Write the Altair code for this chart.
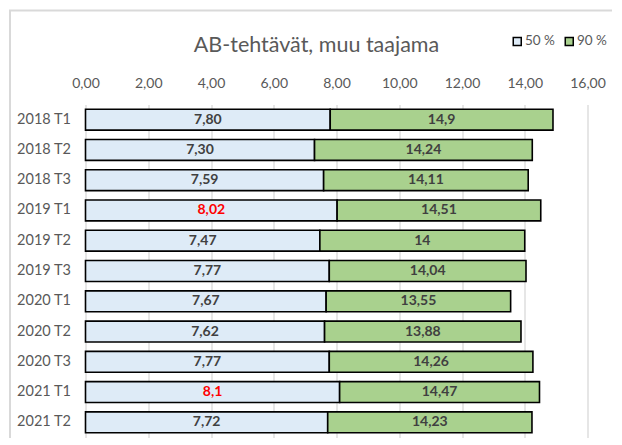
import altair as alt
import pandas as pd

periods = ["2018 T1", "2018 T2", "2018 T3", "2019 T1", "2019 T2", "2019 T3",
           "2020 T1", "2020 T2", "2020 T3", "2021 T1", "2021 T2"]
p50 = [7.80, 7.30, 7.59, 8.02, 7.47, 7.77, 7.67, 7.62, 7.77, 8.10, 7.72]
p90 = [14.9, 14.24, 14.11, 14.51, 14.0, 14.04, 13.55, 13.88, 14.26, 14.47, 14.23]
lab50 = ["7,80", "7,30", "7,59", "8,02", "7,47", "7,77", "7,67", "7,62", "7,77", "8,1", "7,72"]
lab90 = ["14,9", "14,24", "14,11", "14,51", "14", "14,04", "13,55", "13,88", "14,26", "14,47", "14,23"]
series = ["50 %", "90 %"]
TITLE = "AB-tehtävät, muu taajama"

FONT = "Lato"
rows = []
for i, p in enumerate(periods):
    rows.append({"period": p, "series": series[0], "start": 0.0, "end": p50[i],
                 "label": lab50[i], "hi": p50[i] > 8})
    rows.append({"period": p, "series": series[1], "start": p50[i], "end": p90[i],
                 "label": lab90[i], "hi": False})
df = pd.DataFrame(rows)

W, H = 502, 333

yenc = alt.Y("period:N", sort=periods, title=None,
             scale=alt.Scale(paddingInner=0.31, paddingOuter=0.155))

bars = alt.Chart(df).mark_bar(stroke="black", strokeWidth=1.6, opacity=1).encode(
    x=alt.X("start:Q", title=None,
            scale=alt.Scale(domain=[0, 16], nice=False),
            axis=alt.Axis(orient="top", values=[0, 2, 4, 6, 8, 10, 12, 14, 16],
                          labelFlush=False,
                          labelExpr="replace(format(datum.value, '.2f'), '.', ',')")),
    x2="end:Q",
    y=yenc,
    fill=alt.Fill("series:N", scale=alt.Scale(domain=series, range=["#DEEBF7", "#A9D18E"]),
                  legend=alt.Legend(title=None, orient="none", direction="horizontal",
                                    legendX=425, legendY=-70, symbolType="square",
                                    symbolSize=64, symbolStrokeColor="black",
                                    symbolStrokeWidth=1.5, labelFontSize=13.5,
                                    labelColor="#595959", labelFont=FONT,
                                    columnPadding=6, labelOffset=1, padding=0)),
)

texts = alt.Chart(df).mark_text(font=FONT, fontSize=14, fontWeight="bold").encode(
    x=alt.X("mid:Q"),
    y=yenc,
    text="label:N",
    color=alt.condition("datum.hi", alt.value("#FF0000"), alt.value("#404040")),
).transform_calculate(mid="(datum.start + datum.end) / 2")

title = alt.Chart(pd.DataFrame({"t": [TITLE]})).mark_text(
    font=FONT, fontSize=21.5, color="#595959", baseline="alphabetic", align="center"
).encode(x=alt.value(231), y=alt.value(-53), text="t:N")

border = alt.Chart(pd.DataFrame({"k": [0]})).mark_rect(
    filled=False, stroke="#D9D9D9", strokeWidth=2
).encode(x=alt.value(-75.5), x2=alt.value(700), y=alt.value(-94), y2=alt.value(500))

chart = alt.layer(border, bars, texts, title).properties(
    width=W, height=H,
    autosize=alt.AutoSizeParams(type="none"),
    padding={"left": 77.5, "top": 96.5, "right": 24, "bottom": 0},
).configure_view(stroke=None).configure_axisX(
    grid=True, gridColor="#D9D9D9", gridWidth=1.3, domain=False, ticks=False,
    labelFont=FONT, labelFontSize=14, labelColor="#595959", labelPadding=14,
).configure_axisY(
    grid=False, domain=False, ticks=False, labelFont=FONT, labelFontSize=14.5,
    labelColor="#595959", labelPadding=15,
)

chart.save("out.html", embed_options={"renderer": "svg", "actions": False})
